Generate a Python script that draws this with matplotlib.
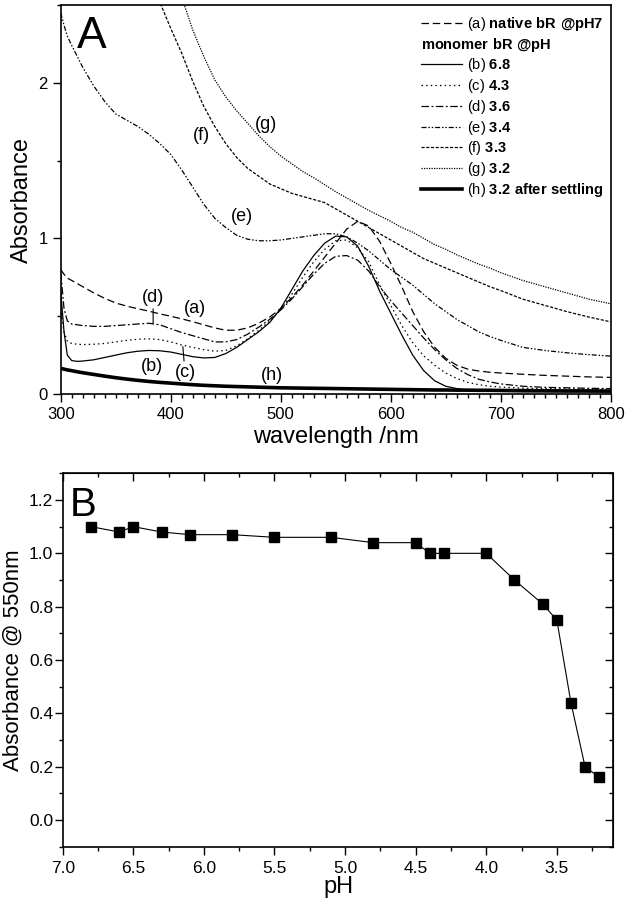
import numpy as np
import matplotlib
matplotlib.use('Agg')
import matplotlib.pyplot as plt
from matplotlib.lines import Line2D
from matplotlib.ticker import MultipleLocator, FormatStrFormatter
from matplotlib.transforms import Affine2D

plt.rcParams['font.family'] = ['Liberation Sans', 'DejaVu Sans']
plt.rcParams['mathtext.fontset'] = 'custom'
plt.rcParams['mathtext.rm'] = 'Liberation Sans'
plt.rcParams['mathtext.bf'] = 'Liberation Sans:bold'

# ---- panel A: absorption spectra ----
wavelength = [300, 303, 306, 310, 315, 320, 330, 340, 350, 360, 370, 380, 390, 400,
              410, 420, 430, 440, 450, 460, 470, 480, 490, 500, 510, 520, 530, 540,
              550, 560, 570, 580, 590, 600, 610, 620, 630, 640, 650, 660, 670, 680,
              690, 700, 720, 740, 760, 780, 800]

nan = np.nan
abs_a = [0.80, 0.77, 0.745, 0.73, 0.71, 0.69, 0.65, 0.615, 0.585, 0.565, 0.548, 0.533, 0.515, 0.50,
         0.483, 0.465, 0.445, 0.425, 0.41, 0.41, 0.425, 0.455, 0.495, 0.55, 0.62, 0.70, 0.79, 0.88,
         0.97, 1.06, 1.11, 1.08, 0.98, 0.84, 0.69, 0.53, 0.40, 0.30, 0.23, 0.185, 0.16, 0.148,
         0.14, 0.135, 0.127, 0.12, 0.115, 0.11, 0.107]
abs_b = [0.66, 0.40, 0.25, 0.215, 0.21, 0.212, 0.22, 0.235, 0.25, 0.265, 0.275, 0.28, 0.278, 0.27,
         0.255, 0.24, 0.232, 0.235, 0.26, 0.30, 0.35, 0.40, 0.46, 0.55, 0.67, 0.79, 0.89, 0.97,
         1.015, 1.01, 0.95, 0.82, 0.66, 0.52, 0.38, 0.25, 0.15, 0.085, 0.05, 0.035, 0.025, 0.02,
         0.018, 0.017, 0.015, 0.015, 0.014, 0.014, 0.013]
abs_c = [0.55, 0.40, 0.34, 0.325, 0.32, 0.318, 0.32, 0.325, 0.335, 0.345, 0.352, 0.355, 0.35, 0.335,
         0.315, 0.30, 0.285, 0.275, 0.28, 0.31, 0.355, 0.41, 0.47, 0.54, 0.64, 0.75, 0.85, 0.93,
         0.985, 0.99, 0.94, 0.85, 0.70, 0.57, 0.44, 0.33, 0.245, 0.185, 0.135, 0.10, 0.075, 0.06,
         0.05, 0.045, 0.038, 0.035, 0.033, 0.031, 0.03]
abs_d = [0.78, 0.55, 0.47, 0.45, 0.445, 0.44, 0.435, 0.435, 0.44, 0.445, 0.45, 0.455, 0.445, 0.42,
         0.395, 0.375, 0.355, 0.335, 0.335, 0.35, 0.385, 0.43, 0.48, 0.54, 0.61, 0.69, 0.77, 0.84,
         0.885, 0.89, 0.86, 0.79, 0.69, 0.60, 0.52, 0.44, 0.36, 0.285, 0.22, 0.165, 0.125, 0.095,
         0.078, 0.065, 0.05, 0.043, 0.04, 0.037, 0.035]
abs_e = [2.45, 2.37, 2.30, 2.24, 2.17, 2.10, 1.98, 1.88, 1.80, 1.76, 1.72, 1.67, 1.61, 1.54,
         1.44, 1.33, 1.22, 1.13, 1.07, 1.02, 0.995, 0.985, 0.985, 0.99, 1.00, 1.01, 1.02, 1.03,
         1.03, 1.01, 0.97, 0.92, 0.86, 0.80, 0.75, 0.70, 0.64, 0.58, 0.53, 0.48, 0.44, 0.40,
         0.37, 0.345, 0.30, 0.28, 0.265, 0.253, 0.244]
abs_f = [nan, nan, nan, nan, nan, nan, nan, nan, nan, nan, nan, 2.72, 2.52, 2.35,
         2.19, 2.01, 1.85, 1.72, 1.61, 1.52, 1.45, 1.40, 1.35, 1.32, 1.29, 1.27, 1.25, 1.23,
         1.19, 1.15, 1.11, 1.07, 1.03, 0.99, 0.95, 0.91, 0.87, 0.84, 0.81, 0.78, 0.75, 0.72,
         0.69, 0.665, 0.61, 0.57, 0.53, 0.495, 0.464]
abs_g = [nan, nan, nan, nan, nan, nan, nan, nan, nan, nan, nan, nan, nan, 2.70,
         2.55, 2.34, 2.17, 2.02, 1.91, 1.82, 1.74, 1.66, 1.59, 1.53, 1.48, 1.43, 1.39, 1.345,
         1.30, 1.26, 1.22, 1.18, 1.145, 1.11, 1.07, 1.04, 1.00, 0.96, 0.93, 0.895, 0.865, 0.835,
         0.81, 0.78, 0.73, 0.69, 0.65, 0.61, 0.58]
abs_h = [0.165, 0.16, 0.155, 0.15, 0.143, 0.137, 0.126, 0.115, 0.105, 0.096, 0.088, 0.081, 0.075, 0.07,
         0.065, 0.06, 0.056, 0.053, 0.05, 0.048, 0.046, 0.044, 0.042, 0.04, 0.039, 0.038, 0.037, 0.036,
         0.035, 0.034, 0.033, 0.032, 0.031, 0.03, 0.029, 0.028, 0.027, 0.026, 0.026, 0.025, 0.025, 0.024,
         0.024, 0.023, 0.022, 0.021, 0.02, 0.02, 0.019]

curve_ids = ['a', 'b', 'c', 'd', 'e', 'f', 'g', 'h']
curve_ph = ['native bR @pH7', '6.8', '4.3', '3.6', '3.4', '3.3', '3.2', '3.2 after settling']

# ---- panel B: absorbance at 550 nm vs pH ----
ph = [6.8, 6.6, 6.5, 6.3, 6.1, 5.8, 5.5, 5.1, 4.8, 4.5, 4.4, 4.3, 4.0, 3.8, 3.6, 3.5, 3.4, 3.3, 3.2]
abs550 = [1.10, 1.08, 1.10, 1.08, 1.07, 1.07, 1.06, 1.06, 1.04, 1.04, 1.00, 1.00, 1.00, 0.90,
          0.81, 0.75, 0.44, 0.20, 0.16]

styles = {
    'a': dict(ls=(0, (6, 3)), lw=0.9),
    'b': dict(ls='-', lw=0.9),
    'c': dict(ls=(0, (1.2, 2.5)), lw=0.9),
    'd': dict(ls=(0, (6, 2, 1.5, 2)), lw=0.9),
    'e': dict(ls=(0, (4, 1.5, 1.2, 1.5, 1.2, 1.5)), lw=0.9),
    'f': dict(ls=(0, (2.5, 1.3)), lw=0.9),
    'g': dict(ls=(0, (1, 1)), lw=0.9),
    'h': dict(ls='-', lw=2.6),
}

fig = plt.figure(figsize=(6.26, 8.99), dpi=100)
axA = fig.add_axes([0.097, 0.5617, 0.8786, 0.4327])
axB = fig.add_axes([0.1002, 0.0582, 0.8795, 0.4153])

series = [abs_a, abs_b, abs_c, abs_d, abs_e, abs_f, abs_g, abs_h]
lines = {}
for cid, ys in zip(curve_ids, series):
    ln, = axA.plot(wavelength, ys, color='black', **styles[cid])
    lines[cid] = ln

axA.set_xlim(300, 800)
axA.set_ylim(0, 2.5)
axA.xaxis.set_major_locator(MultipleLocator(100))
axA.xaxis.set_minor_locator(MultipleLocator(10))
axA.yaxis.set_major_locator(MultipleLocator(1))
axA.yaxis.set_minor_locator(MultipleLocator(0.5))
axA.tick_params(which='major', direction='out', length=5.5, width=1, labelsize=12)
axA.tick_params(axis='x', which='major', pad=4)
axA.tick_params(axis='y', which='major', pad=4)
axA.tick_params(which='minor', direction='out', length=3, width=1)
axA.set_xlabel('wavelength /nm', fontsize=17, labelpad=3)
axA.set_ylabel('Absorbance', fontsize=17, labelpad=4)
axA.text(0.03, 0.972, 'A', transform=axA.transAxes, fontsize=32, va='top', ha='left')

# curve labels
lab_fs = 13
axA.text(422, 0.55, '(a)', fontsize=lab_fs, ha='center', va='center')
axA.text(383, 0.175, '(b)', fontsize=lab_fs, ha='center', va='center')
axA.annotate('(c)', xy=(411, 0.305), xytext=(413, 0.14), fontsize=lab_fs, ha='center',
             va='center', arrowprops=dict(arrowstyle='-', lw=0.8, shrinkA=0, shrinkB=0))
axA.annotate('(d)', xy=(384, 0.455), xytext=(384, 0.62), fontsize=lab_fs, ha='center',
             va='center', arrowprops=dict(arrowstyle='-', lw=0.8, shrinkA=0, shrinkB=0))
axA.text(465, 1.14, '(e)', fontsize=lab_fs, ha='center', va='center')
axA.text(428, 1.66, '(f)', fontsize=lab_fs, ha='center', va='center')
axA.text(487, 1.73, '(g)', fontsize=lab_fs, ha='center', va='center')
axA.text(492, 0.12, '(h)', fontsize=lab_fs, ha='center', va='center')


# legend (second row is a header without a line sample)
def bold(s):
    return r'$\mathbf{' + s.replace(' ', r'\ ') + '}$'


leg_fs = 10.5
handles = [lines['a'], Line2D([], [], ls='none')] + [lines[c] for c in curve_ids[1:]]
labels = ['(' + curve_ids[0] + ') ' + bold(curve_ph[0]), bold('monomer bR @pH')] + \
         ['(' + c + ') ' + bold(p) for c, p in zip(curve_ids[1:], curve_ph[1:])]
leg = axA.legend(handles, labels, loc='upper left', bbox_to_anchor=(0.645, 0.99),
                 frameon=False, fontsize=leg_fs, handlelength=2.8, handletextpad=0.3,
                 labelspacing=0.19, borderaxespad=0)
hdr = leg.get_texts()[1]
shift = (2.8 + 0.3) * leg_fs * fig.dpi / 72.0
hdr.set_transform(hdr.get_transform() + Affine2D().translate(-shift, 0))

# ---- panel B ----
axB.plot(ph, abs550, color='black', lw=0.8, marker='s', markersize=7.5)
axB.set_xlim(7.0, 3.1)
axB.set_ylim(-0.1, 1.3)
axB.xaxis.set_major_locator(MultipleLocator(0.5))
axB.xaxis.set_minor_locator(MultipleLocator(0.25))
axB.yaxis.set_major_locator(MultipleLocator(0.2))
axB.yaxis.set_minor_locator(MultipleLocator(0.1))
axB.xaxis.set_major_formatter(FormatStrFormatter('%.1f'))
axB.yaxis.set_major_formatter(FormatStrFormatter('%.1f'))
axB.tick_params(which='major', direction='out', length=5.5, width=1, labelsize=12.5)
axB.tick_params(axis='x', which='major', pad=5)
axB.tick_params(axis='y', which='major', pad=1.5)
axB.tick_params(which='minor', direction='out', length=3, width=1)
# inward ticks on top and right
axB2 = axB.secondary_xaxis('top')
axB2.xaxis.set_major_locator(MultipleLocator(0.5))
axB2.xaxis.set_minor_locator(MultipleLocator(0.25))
axB2.tick_params(which='major', direction='in', length=5.5, width=1, labeltop=False)
axB2.tick_params(which='minor', direction='in', length=3, width=1)
axB3 = axB.secondary_yaxis('right')
axB3.yaxis.set_major_locator(MultipleLocator(0.2))
axB3.yaxis.set_minor_locator(MultipleLocator(0.1))
axB3.tick_params(which='major', direction='in', length=5.5, width=1, labelright=False)
axB3.tick_params(which='minor', direction='in', length=3, width=1)
axB.set_xlabel('pH', fontsize=17, labelpad=0)
axB.set_ylabel('Absorbance @ 550nm', fontsize=16, labelpad=4)
axB.text(0.0133, 0.965, 'B', transform=axB.transAxes, fontsize=29, va='top', ha='left')

for ax in (axA, axB):
    for sp in ax.spines.values():
        sp.set_linewidth(1.2)

fig.savefig('out.png', dpi=100)
